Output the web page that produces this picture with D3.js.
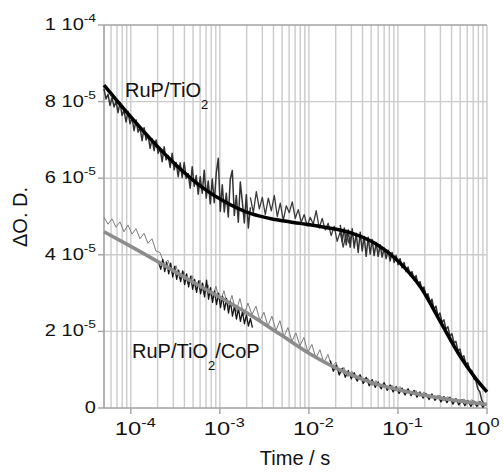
<!DOCTYPE html>
<html>
<head>
<meta charset="utf-8">
<script src="https://cdn.jsdelivr.net/npm/d3@7"></script>
<style>
  body { margin: 0; background: #fff; }
  svg { display: block; font-family: "Liberation Sans", Arial, sans-serif; }
</style>
</head>
<body>
<svg id="chart" width="504" height="473"></svg>
<script>
// ---- data (values in units of 1e-6 O.D., time in s) ----

// fitted curves
const fitRuPTime = [5e-5, 1e-4, 1.7e-4, 3.2e-4, 6e-4, 1.15e-3, 2.2e-3, 4.2e-3, 8e-3, 1.5e-2, 2.9e-2, 5.5e-2, 0.105, 0.18, 0.3, 0.5, 0.73, 1]
const fitRuPVal = [84.3, 76, 70, 63.5, 58, 53.8, 50.8, 49.2, 48.2, 47.2, 45.8, 43, 37.9, 31.5, 22.5, 13.5, 8, 4.2]

const fitCoPTime = [5e-5, 1e-4, 2.2e-4, 4.7e-4, 1e-3, 2.2e-3, 4.7e-3, 1e-2, 2.2e-2, 4.7e-2, 0.105, 0.3, 1]
const fitCoPVal = [46, 42.2, 37.7, 33.2, 28.9, 24.3, 19.3, 14.3, 10.0, 6.9, 4.7, 2.6, 0.9]

// raw transients, each recorded between [first, last] time
const rupRawASpan = [5e-5, 2.2e-3]
const rupRawA = [83.3, 80.7, 81.9, 79.0, 81.0, 78.6, 80.1, 77.1, 79.8, 76.4, 77.7, 74.7, 77.4, 74.2, 75.8,
  72.4, 75.2, 72.0, 73.2, 69.8, 73.2, 70.0, 71.2, 67.8, 70.3, 67.2, 70.0, 66.5, 67.8, 64.3, 68.2, 64.8,
  65.9, 62.8, 66.5, 62.2, 64.1, 60.4, 64.0, 60.2, 64.1, 59.9, 61.2, 57.4, 63.0, 57.9, 60.7, 55.8, 60.4,
  56.1, 62.1, 54.8, 59.3, 53.3, 59.8, 53.6, 61.3, 65.2, 51.4, 58.3, 51.2, 56.1, 49.9, 59.8, 62.0, 50.3,
  55.5, 48.5, 59.0, 53.8, 48.3, 55.7, 47.0, 52.4]

const rupRawBSpan = [2.2e-3, 0.0306]
const rupRawB = [55.0, 51.0, 56.5, 52.0, 55.0, 50.5, 54.8, 51.5, 55.5, 50.0, 53.5, 49.0, 52.8, 51.0, 53.8,
  49.5, 51.8, 48.5, 50.5, 47.5, 49.8, 48.0, 51.5, 47.0, 49.5, 46.5, 48.2, 45.0, 47.5, 43.5, 46.0, 42.0,
  45.5, 43.0, 46.0]

const rupRawCSpan = [0.0225, 0.921]
const rupRawC = [47.8, 43.5, 47.0, 42.6, 46.5, 42.0, 46.8, 41.8, 45.6, 40.6, 45.9, 41.0, 44.8, 39.6, 44.6,
  40.2, 44.0, 39.8, 43.2, 39.6, 42.6, 39.4, 41.8, 39.0, 41.2, 38.4, 40.6, 38.0, 39.8, 37.4, 39.0, 36.6,
  38.0, 35.6, 36.8, 34.6, 35.6, 33.4, 34.6, 32.2, 33.0, 30.8, 31.6, 29.2, 29.8, 27.6, 28.4, 25.8, 26.6,
  24.0, 24.8, 22.4, 23.0, 20.6, 21.2, 18.8, 19.4, 17.0, 17.4, 15.0, 15.4, 13.2, 13.6, 11.4, 11.8, 9.6,
  9.8, 7.6, 7.2, 5.0, 4.2, 2.0, 1.2]

const copGraySpan = [5e-5, 0.921]
const copGray = [49.8, 48.0, 49.4, 47.2, 48.6, 46.0, 47.8, 45.4, 46.8, 44.2, 45.6, 43.0, 44.2, 41.0, 40.6,
  37.8, 38.6, 35.4, 37.2, 33.6, 35.6, 32.4, 34.6, 30.8, 33.4, 29.6, 32.2, 28.4, 31.8, 27.6, 30.6, 26.2,
  29.4, 25.0, 28.6, 24.2, 27.4, 24.4, 26.6, 22.8, 25.0, 21.4, 24.0, 20.2, 22.8, 18.6, 21.0, 17.4, 19.6,
  16.2, 18.4, 14.6, 16.6, 13.0, 15.2, 11.8, 14.0, 10.6, 12.0, 9.0, 10.6, 8.2, 9.6, 7.4, 8.8, 6.6, 7.8,
  5.8, 7.2, 5.4, 6.6, 4.8, 6.0, 4.4, 5.6, 3.8, 5.0, 3.4, 4.6, 3.0, 4.2, 2.6, 3.8, 2.2, 3.4, 1.8, 3.0,
  1.6, 2.6, 1.2, 2.4, 1.0, 2.2, 0.8, 1.8, 0.6]

const copBlackASpan = [2.06e-4, 2.32e-3]
const copBlackA = [38.0, 36.2, 38.8, 35.6, 38.0, 35.0, 37.8, 34.2, 37.0, 33.6, 36.0, 33.0, 35.8, 32.2, 35.0,
  31.6, 34.4, 31.0, 33.6, 30.2, 33.2, 29.8, 32.6, 29.0, 33.4, 28.4, 31.4, 27.6, 30.6, 27.0, 30.0, 26.2,
  29.2, 25.6, 28.6, 24.8, 27.8, 24.0, 26.6, 23.2, 26.0, 22.6, 25.2, 22.0, 24.4, 21.4, 23.4, 21.0]

const copBlackBSpan = [0.0174, 0.97]
const copBlackB = [12.4, 9.6, 11.2, 8.6, 10.4, 8.0, 9.8, 7.6, 9.2, 7.0, 8.6, 6.4, 8.0, 5.8, 7.4, 5.4, 6.8,
  5.0, 6.6, 4.6, 6.0, 4.2, 5.6, 3.8, 5.2, 3.4, 5.0, 3.2, 4.6, 2.8, 4.2, 2.6, 3.8, 2.2, 3.6, 2.0, 3.2,
  1.6, 3.0, 1.4, 2.8, 1.0, 2.4, 0.8, 2.2, 0.6, 2.0, 0.4, 1.8, 0.4, 1.6, 0.2, 1.2]

// axes
const xTicks = [1e-4, 1e-3, 1e-2, 1e-1, 1]
const xTickExp = ["-4", "-3", "-2", "-1", "0"]
const yTicks = [0, 20, 40, 60, 80, 100]
const yTickMant = ["0", "2 10", "4 10", "6 10", "8 10", "1 10"]
const yTickExp = ["", "-5", "-5", "-5", "-5", "-4"]

// ---- layout ----
const svg = d3.select("#chart")
const m = { left: 104, right: 487, top: 25, bottom: 408 }
const gridColor = "#cbcbcb", axisColor = "#a3a3a3"

const x = d3.scaleLog().domain([5e-5, 1]).range([m.left, m.right])
const y = d3.scaleLinear().domain([0, 100]).range([m.bottom, m.top])

// vertical grid at every minor tick
const minor = []
for (let e = -5; e <= 0; e++) {
  for (let k = 1; k <= 9; k++) {
    const v = k * Math.pow(10, e)
    if (v >= 5e-5 * 0.999 && v <= 1.0001) minor.push(v)
  }
}
svg.append("g").selectAll("line").data(minor).join("line")
  .attr("x1", d => x(d)).attr("x2", d => x(d))
  .attr("y1", m.top).attr("y2", m.bottom)
  .attr("stroke", gridColor).attr("stroke-width", 1.4)

svg.append("g").selectAll("line").data(yTicks.slice(1, -1)).join("line")
  .attr("x1", m.left).attr("x2", m.right)
  .attr("y1", d => y(d)).attr("y2", d => y(d))
  .attr("stroke", gridColor).attr("stroke-width", 1.4)

// frame / axes
svg.append("line").attr("x1", m.left).attr("x2", m.right).attr("y1", m.top).attr("y2", m.top)
  .attr("stroke", axisColor).attr("stroke-width", 1.4)
svg.append("line").attr("x1", m.left).attr("x2", m.left).attr("y1", m.top).attr("y2", m.bottom)
  .attr("stroke", axisColor).attr("stroke-width", 1.4)
svg.append("line").attr("x1", m.left).attr("x2", m.right).attr("y1", m.bottom).attr("y2", m.bottom)
  .attr("stroke", axisColor).attr("stroke-width", 1.4)

// tick marks
svg.append("g").selectAll("line").data(xTicks).join("line")
  .attr("x1", d => x(d)).attr("x2", d => x(d)).attr("y1", m.bottom).attr("y2", m.bottom + 6)
  .attr("stroke", axisColor).attr("stroke-width", 1.4)
svg.append("g").selectAll("line").data(yTicks).join("line")
  .attr("x1", m.left - 6).attr("x2", m.left).attr("y1", d => y(d)).attr("y2", d => y(d))
  .attr("stroke", axisColor).attr("stroke-width", 1.4)

// tick labels (wide face, stretched horizontally)
const yl = svg.append("g").selectAll("text").data(yTicks).join("text")
  .attr("transform", d => `translate(96,${y(d) + 5}) scale(1.25,1)`)
  .attr("text-anchor", "end").attr("font-size", 16).attr("fill", "#111")
yl.append("tspan").text((d, i) => yTickMant[i])
yl.append("tspan").attr("dy", -8).attr("font-size", 11).text((d, i) => yTickExp[i])

const xl = svg.append("g").selectAll("text").data(xTicks).join("text")
  .attr("transform", (d, i) => `translate(${x(d) - (i === xTicks.length - 1 ? 23 : 16)},435) scale(1.25,1)`)
  .attr("font-size", 19).attr("fill", "#111")
xl.append("tspan").text("10")
xl.append("tspan").attr("dy", -8).attr("font-size", 13).text((d, i) => xTickExp[i])

// axis titles
svg.append("text").attr("x", 295).attr("y", 465).attr("text-anchor", "middle")
  .attr("font-size", 20).attr("fill", "#111").text("Time / s")
svg.append("text").attr("transform", "translate(27,217) rotate(-90)").attr("text-anchor", "middle")
  .attr("font-size", 20).attr("fill", "#111").text("ΔO. D.")

// ---- traces ----
function spanPoints(span, vals) {
  const l0 = Math.log10(span[0]), l1 = Math.log10(span[1])
  return vals.map((v, i) => [Math.pow(10, l0 + (l1 - l0) * i / (vals.length - 1)), v])
}
const rawLine = d3.line().x(d => x(d[0])).y(d => y(d[1]))
const fitLine = d3.line().x(d => x(d[0])).y(d => y(d[1])).curve(d3.curveMonotoneX)

function drawRaw(span, vals, color, w) {
  svg.append("path").datum(spanPoints(span, vals)).attr("d", rawLine)
    .attr("fill", "none").attr("stroke", color).attr("stroke-width", w).attr("stroke-linejoin", "round")
}

drawRaw(copGraySpan, copGray, "#7c7c7c", 1)
drawRaw(copBlackASpan, copBlackA, "#151515", 1.3)
drawRaw(copBlackBSpan, copBlackB, "#151515", 1.3)
drawRaw(rupRawASpan, rupRawA, "#333", 1.5)
drawRaw(rupRawBSpan, rupRawB, "#3a3a3a", 1.3)
drawRaw(rupRawCSpan, rupRawC, "#333", 1.5)

svg.append("path").datum(fitCoPTime.map((t, i) => [t, fitCoPVal[i]])).attr("d", fitLine)
  .attr("fill", "none").attr("stroke", "#8c8c8c").attr("stroke-width", 3.5)
svg.append("path").datum(fitRuPTime.map((t, i) => [t, fitRuPVal[i]])).attr("d", fitLine)
  .attr("fill", "none").attr("stroke", "#000").attr("stroke-width", 3.5)

// series labels
const lab1 = svg.append("text").attr("x", 125).attr("y", 97).attr("font-size", 20).attr("fill", "#111")
lab1.append("tspan").text("RuP/TiO")
lab1.append("tspan").attr("dy", 12).attr("font-size", 13).text("2")

const lab2 = svg.append("text").attr("x", 132).attr("y", 358).attr("font-size", 20).attr("fill", "#111")
lab2.append("tspan").text("RuP/TiO")
lab2.append("tspan").attr("dy", 12).attr("font-size", 13).text("2")
lab2.append("tspan").attr("dy", -12).text("/CoP")
</script>
</body>
</html>
